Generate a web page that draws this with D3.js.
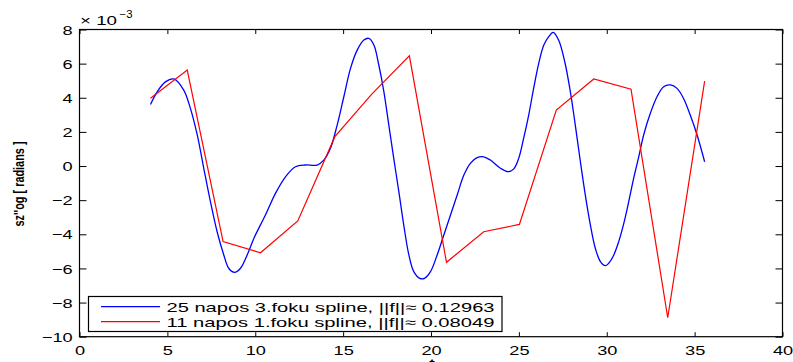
<!DOCTYPE html>
<html>
<head>
<meta charset="utf-8">
<script src="https://cdn.jsdelivr.net/npm/d3@7"></script>
<style>
  body { margin: 0; background: #fff; }
  svg { display: block; }
  text { font-family: "Liberation Sans", Arial, Helvetica, sans-serif; fill: #000; }
</style>
</head>
<body>
<svg id="chart" width="793" height="362"></svg>
<script>
// Second derivative of the signal, values in units of 1e-3 rad.
// Cubic spline sampled along t (25 nodes).
const blueT = [4.04, 4.42, 4.89, 5.36, 5.93, 6.31, 6.70, 7.07, 7.45, 7.83, 8.21, 8.49, 8.82, 9.16, 9.54, 9.92,
  10.58, 11.15, 11.72, 12.29, 12.86, 13.52, 13.90, 14.28, 14.66, 15.04, 15.42, 15.80, 16.18, 16.46, 16.75,
  17.03, 17.32, 17.60, 17.88, 18.17, 18.45, 18.74, 19.02, 19.36, 19.63, 19.97, 20.35, 20.73, 21.11, 21.49,
  21.87, 22.24, 22.62, 23.00, 23.38, 23.95, 24.39, 24.70, 24.99, 25.27, 25.56, 25.84, 26.13, 26.42, 26.70,
  26.95, 27.26, 27.61, 27.93, 28.21, 28.50, 28.78, 29.07, 29.35, 29.64, 29.92, 30.11, 30.40, 30.68, 30.97,
  31.25, 31.53, 31.82, 32.10, 32.48, 32.86, 33.24, 33.62, 34.00, 34.37, 34.75, 35.14, 35.57];
const blueV = [3.61, 4.35, 4.93, 5.10, 4.45, 3.38, 1.82, -0.13, -2.09, -3.85, -5.21, -5.99, -6.23, -5.99, -5.21, -4.24,
  -2.87, -1.60, -0.63, -0.04, 0.06, 0.06, 0.35, 1.04, 2.40, 4.06, 5.72, 6.79, 7.38, 7.48, 7.09,
  5.92, 4.35, 2.40, 0.45, -1.50, -3.46, -5.21, -6.19, -6.58, -6.58, -6.19, -5.21, -4.04, -2.87, -1.70,
  -0.53, 0.16, 0.49, 0.54, 0.35, -0.13, -0.33, -0.18, 0.45, 1.62, 2.99, 4.55, 6.02, 7.09, 7.58,
  7.83, 7.38, 6.11, 4.35, 2.40, 0.25, -1.70, -3.46, -4.82, -5.60, -5.84, -5.70, -5.21, -4.43, -3.36,
  -2.09, -0.72, 0.54, 1.82, 3.09, 4.06, 4.65, 4.75, 4.55, 3.96, 2.99, 1.82, 0.25];

// Piecewise linear spline (11 nodes), breakpoints along t.
const redT = [4.04, 6.13, 8.17, 10.30, 12.42, 14.53, 16.63, 18.77, 20.88, 23.00, 25.03, 27.13, 29.26, 31.38, 33.47, 35.57];
const redV = [3.97, 5.62, -4.43, -5.08, -3.22, 1.72, 4.21, 6.46, -5.64, -3.85, -3.42, 3.28, 5.10, 4.50, -8.89, 4.98];

const xTicks = [0, 5, 10, 15, 20, 25, 30, 35, 40];
const yTicks = [-10, -8, -6, -4, -2, 0, 2, 4, 6, 8];
const legendLabels = ["25 napos 3.foku spline, ||f||\u2248 0.12963", "11 napos 1.foku spline, ||f||\u2248 0.08049"];
const seriesColors = ["#0000ff", "#ff0000"];
const yLabel = "sz''og [ radians ]";
const xLabel = "t";

const svg = d3.select("#chart");
const box = { left: 79.5, right: 782.5, top: 29.5, bottom: 336.7 };
const SX = 1.4; // horizontal glyph stretch of the figure text

const x = d3.scaleLinear().domain([0, 40]).range([box.left, box.right]);
const y = d3.scaleLinear().domain([-10, 8]).range([box.bottom, box.top]);

// Curves
const bluePts = blueT.map((t, i) => [t, blueV[i]]);
const redPts = redT.map((t, i) => [t, redV[i]]);

svg.append("path").datum(bluePts)
  .attr("d", d3.line().x(d => x(d[0])).y(d => y(d[1])).curve(d3.curveCatmullRom.alpha(0.5)))
  .attr("fill", "none").attr("stroke", seriesColors[0]).attr("stroke-width", 1.3);
svg.append("path").datum(redPts)
  .attr("d", d3.line().x(d => x(d[0])).y(d => y(d[1])))
  .attr("fill", "none").attr("stroke", seriesColors[1]).attr("stroke-width", 1.2);

// Axes with inward ticks on all four sides
const fmt = d3.format("d");
const gB = svg.append("g").attr("transform", `translate(0,${box.bottom})`)
  .call(d3.axisBottom(x).tickValues(xTicks).tickSize(-4.5).tickSizeOuter(0).tickPadding(9).tickFormat(fmt));
const gT = svg.append("g").attr("transform", `translate(0,${box.top})`)
  .call(d3.axisTop(x).tickValues(xTicks).tickSize(-4.5).tickSizeOuter(0).tickFormat(""));
const gL = svg.append("g").attr("transform", `translate(${box.left},0)`)
  .call(d3.axisLeft(y).tickValues(yTicks).tickSize(-7).tickSizeOuter(0).tickPadding(4.85).tickFormat(fmt));
const gR = svg.append("g").attr("transform", `translate(${box.right},0)`)
  .call(d3.axisRight(y).tickValues(yTicks).tickSize(-7).tickSizeOuter(0).tickFormat(""));

[gB, gT, gL, gR].forEach(g => {
  g.select(".domain").remove();
  g.selectAll(".tick line").attr("stroke", "#000").attr("stroke-width", 1);
  g.selectAll("text").attr("font-size", 13).attr("fill", "#000")
    .attr("font-family", "'Liberation Sans', Arial, sans-serif");
});
gB.selectAll(".tick text").attr("transform", `scale(${SX},1)`);
gL.selectAll(".tick text").attr("transform", `scale(${SX},1)`).attr("dy", "0.36em");

// Frame
svg.append("rect")
  .attr("x", box.left).attr("y", box.top)
  .attr("width", box.right - box.left).attr("height", box.bottom - box.top)
  .attr("fill", "none").attr("stroke", "#000").attr("stroke-width", 1.2);

// Exponent label
svg.append("text").attr("x", 80).attr("y", 25).attr("font-size", 13)
  .attr("textLength", 37).attr("lengthAdjust", "spacingAndGlyphs").text("\u00d7 10");
svg.append("text").attr("x", 119.5).attr("y", 17.5).attr("font-size", 10)
  .attr("textLength", 13).attr("lengthAdjust", "spacingAndGlyphs").text("\u22123");

// Axis labels
svg.append("text")
  .attr("transform", `translate(23.5,184) rotate(-90) scale(1,1.2)`)
  .attr("text-anchor", "middle").attr("font-size", 12).attr("font-weight", "bold")
  .attr("textLength", 85).attr("lengthAdjust", "spacingAndGlyphs")
  .text(yLabel);
svg.append("text")
  .attr("transform", `translate(${x(20) + 1},367.5) scale(${SX},1)`)
  .attr("text-anchor", "middle").attr("font-size", 12).attr("font-weight", "bold")
  .text(xLabel);

// Legend
const lg = svg.append("g");
lg.append("rect").attr("x", 88.5).attr("y", 296.5).attr("width", 413.5).attr("height", 35)
  .attr("fill", "#fff").attr("stroke", "#000").attr("stroke-width", 1.2);
legendLabels.forEach((lab, i) => {
  const yy = 306.7 + i * 15;
  lg.append("line").attr("x1", 101).attr("x2", 160).attr("y1", yy).attr("y2", yy)
    .attr("stroke", seriesColors[i]).attr("stroke-width", i === 0 ? 1.3 : 1.2);
  lg.append("text").attr("x", 166.5).attr("y", yy + 5.7).attr("font-size", 13)
    .attr("textLength", 328).attr("lengthAdjust", "spacingAndGlyphs").text(lab);
});
</script>
</body>
</html>
